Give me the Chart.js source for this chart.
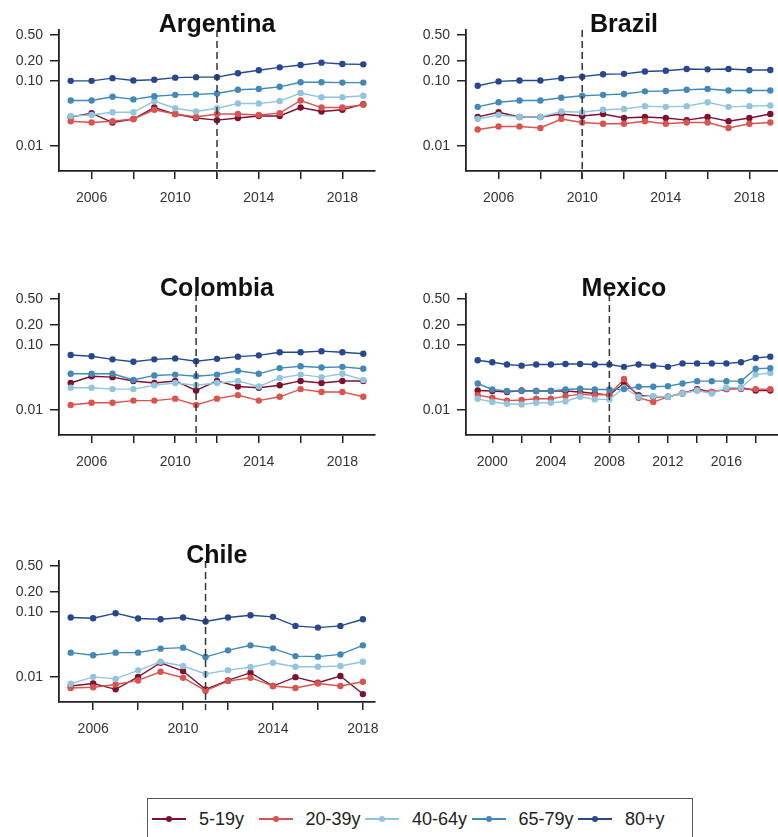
<!DOCTYPE html>
<html>
<head>
<meta charset="utf-8">
<title>Rates by age group</title>
<script src="https://cdn.jsdelivr.net/npm/chart.js@4.4.1/dist/chart.umd.min.js"></script>
<style>
    html, body { margin: 0; padding: 0; background: #fff; overflow: hidden; }
    body { width: 778px; height: 837px; position: relative; font-family: "Liberation Sans", Arial, sans-serif; }
    .panel { position: absolute; }
    .legend { position: absolute; left: 147px; top: 798px; width: 546px; height: 44px;
              border: 1.5px solid #555; box-sizing: border-box; }
    .item { position: absolute; top: 0; height: 100%; }
    .item .ln { position: absolute; left: 0; top: 19px; width: 34px; height: 1.5px; }
    .item .dot { position: absolute; left: 14px; top: 17px; width: 6px; height: 6px; border-radius: 50%; }
    .item .tx { position: absolute; left: 47px; top: 9px; font-size: 18px; line-height: 22px; color: #222; white-space: nowrap; }
</style>
</head>
<body>

<canvas id="argentinaChart" class="panel" width="390" height="215" style="left:0px;top:0px"></canvas>
<canvas id="brazilChart" class="panel" width="390" height="215" style="left:407px;top:0px"></canvas>
<canvas id="colombiaChart" class="panel" width="390" height="215" style="left:0px;top:264px"></canvas>
<canvas id="mexicoChart" class="panel" width="390" height="215" style="left:407px;top:264px"></canvas>
<canvas id="chileChart" class="panel" width="390" height="215" style="left:0px;top:531px"></canvas>
<div class="legend" id="legend"></div>

<script>
// =========================================
// Data
// =========================================
const ageGroups = ["5-19y", "20-39y", "40-64y", "65-79y", "80+y"];
const groupColors = ["#7d1230", "#d9534f", "#93c4de", "#4389b8", "#27488e"];

const yTicks = [0.01, 0.1, 0.2, 0.5];
const yLimits = [0.005, 0.5];

// Argentina
const argentinaYears = [2005, 2006, 2007, 2008, 2009, 2010, 2011, 2012, 2013, 2014, 2015, 2016, 2017, 2018, 2019];
const argentina5to19 = [0.028, 0.032, 0.023, 0.026, 0.039, 0.031, 0.027, 0.025, 0.027, 0.029, 0.029, 0.039, 0.034, 0.036, 0.044];
const argentina20to39 = [0.024, 0.023, 0.024, 0.026, 0.036, 0.031, 0.028, 0.031, 0.031, 0.030, 0.032, 0.050, 0.039, 0.039, 0.043];
const argentina40to64 = [0.029, 0.030, 0.033, 0.033, 0.049, 0.038, 0.034, 0.038, 0.045, 0.045, 0.049, 0.065, 0.056, 0.056, 0.059];
const argentina65to79 = [0.050, 0.050, 0.057, 0.052, 0.058, 0.061, 0.062, 0.064, 0.073, 0.075, 0.081, 0.095, 0.095, 0.094, 0.094];
const argentina80plus = [0.100, 0.100, 0.110, 0.101, 0.104, 0.112, 0.114, 0.114, 0.131, 0.145, 0.161, 0.175, 0.190, 0.181, 0.179];

// Brazil
const brazilYears = [2005, 2006, 2007, 2008, 2009, 2010, 2011, 2012, 2013, 2014, 2015, 2016, 2017, 2018, 2019];
const brazil5to19 = [0.028, 0.033, 0.028, 0.028, 0.031, 0.029, 0.031, 0.027, 0.028, 0.027, 0.025, 0.028, 0.024, 0.027, 0.031];
const brazil20to39 = [0.018, 0.020, 0.020, 0.019, 0.026, 0.023, 0.022, 0.022, 0.024, 0.022, 0.023, 0.023, 0.019, 0.022, 0.023];
const brazil40to64 = [0.026, 0.030, 0.028, 0.028, 0.034, 0.033, 0.036, 0.037, 0.041, 0.040, 0.041, 0.047, 0.040, 0.041, 0.042];
const brazil65to79 = [0.040, 0.047, 0.050, 0.050, 0.055, 0.059, 0.061, 0.063, 0.069, 0.070, 0.073, 0.075, 0.071, 0.071, 0.071];
const brazil80plus = [0.084, 0.098, 0.101, 0.101, 0.110, 0.116, 0.126, 0.128, 0.139, 0.143, 0.152, 0.150, 0.152, 0.147, 0.147];

// Colombia
const colombiaYears = [2005, 2006, 2007, 2008, 2009, 2010, 2011, 2012, 2013, 2014, 2015, 2016, 2017, 2018, 2019];
const colombia5to19 = [0.026, 0.033, 0.032, 0.028, 0.026, 0.028, 0.020, 0.028, 0.023, 0.022, 0.024, 0.028, 0.026, 0.028, 0.028];
const colombia20to39 = [0.012, 0.013, 0.013, 0.014, 0.014, 0.015, 0.012, 0.015, 0.017, 0.014, 0.016, 0.021, 0.019, 0.019, 0.016];
const colombia40to64 = [0.022, 0.022, 0.021, 0.021, 0.024, 0.026, 0.024, 0.026, 0.028, 0.023, 0.031, 0.035, 0.032, 0.036, 0.029];
const colombia65to79 = [0.036, 0.036, 0.036, 0.029, 0.034, 0.035, 0.033, 0.035, 0.040, 0.036, 0.044, 0.047, 0.045, 0.046, 0.043];
const colombia80plus = [0.070, 0.067, 0.060, 0.055, 0.060, 0.062, 0.056, 0.061, 0.066, 0.069, 0.077, 0.077, 0.080, 0.077, 0.073];

// Mexico
const mexicoYears = [1999, 2000, 2001, 2002, 2003, 2004, 2005, 2006, 2007, 2008, 2009, 2010, 2011, 2012, 2013, 2014, 2015, 2016, 2017, 2018, 2019];
const mexico5to19 = [0.020, 0.0196, 0.019, 0.020, 0.0196, 0.0196, 0.0196, 0.019, 0.018, 0.017, 0.026, 0.017, 0.016, 0.016, 0.018, 0.021, 0.019, 0.021, 0.022, 0.020, 0.020];
const mexico20to39 = [0.017, 0.0155, 0.014, 0.0143, 0.0149, 0.0149, 0.0164, 0.0174, 0.017, 0.0174, 0.030, 0.0155, 0.0133, 0.016, 0.0184, 0.020, 0.019, 0.021, 0.021, 0.021, 0.021];
const mexico40to64 = [0.0149, 0.0133, 0.0125, 0.0122, 0.013, 0.013, 0.0137, 0.016, 0.0146, 0.0146, 0.022, 0.016, 0.0164, 0.016, 0.018, 0.020, 0.018, 0.022, 0.022, 0.035, 0.037];
const mexico65to79 = [0.0256, 0.0207, 0.0196, 0.0196, 0.0196, 0.0196, 0.0207, 0.0212, 0.0207, 0.0207, 0.021, 0.0228, 0.0228, 0.0233, 0.0256, 0.0278, 0.0278, 0.0278, 0.0278, 0.043, 0.044];
const mexico80plus = [0.058, 0.054, 0.050, 0.048, 0.050, 0.050, 0.051, 0.051, 0.050, 0.050, 0.046, 0.050, 0.048, 0.046, 0.052, 0.052, 0.052, 0.052, 0.054, 0.063, 0.066];

// Chile
const chileYears = [2005, 2006, 2007, 2008, 2009, 2010, 2011, 2012, 2013, 2014, 2015, 2016, 2017, 2018];
const chile5to19 = [0.0073, 0.0080, 0.0065, 0.0101, 0.0166, 0.0124, 0.0065, 0.0089, 0.0117, 0.0073, 0.0100, 0.0082, 0.0104, 0.0055];
const chile20to39 = [0.0068, 0.0070, 0.0077, 0.0089, 0.0121, 0.0098, 0.0062, 0.0087, 0.0098, 0.0073, 0.0068, 0.0080, 0.0073, 0.0085];
const chile40to64 = [0.0079, 0.0101, 0.0094, 0.0127, 0.0172, 0.0148, 0.0112, 0.0128, 0.0142, 0.0166, 0.0144, 0.0144, 0.0148, 0.0172];
const chile65to79 = [0.0237, 0.0216, 0.0237, 0.0237, 0.0273, 0.0283, 0.0203, 0.0257, 0.0307, 0.0276, 0.0210, 0.0206, 0.0223, 0.0307];
const chile80plus = [0.0818, 0.0799, 0.0954, 0.079, 0.077, 0.0818, 0.071, 0.0818, 0.0889, 0.0838, 0.0609, 0.0574, 0.0609, 0.077];

// x ticks (marks) and labelled years
const ticks2005 = [2006, 2008, 2010, 2012, 2014, 2016, 2018];
const labels2005 = [2006, 2010, 2014, 2018];
const ticksMexico = [2000, 2002, 2004, 2006, 2008, 2010, 2012, 2014, 2016, 2018];
const labelsMexico = [2000, 2004, 2008, 2012, 2016];

// =========================================
// Global configuration
// =========================================
Chart.defaults.font.family = '"Liberation Sans", Arial, Helvetica, sans-serif';
Chart.defaults.color = "#333";

const axisColor = "#222";

// Title + dashed vertical marker
const panelDecor = {
    id: "panelDecor",
    afterDatasetsDraw(chart, args, opts) {
        const { ctx, chartArea, scales } = chart;
        const x = scales.x.getPixelForValue(opts.breakYear);
        ctx.save();
        ctx.strokeStyle = "#333";
        ctx.lineWidth = 1.5;
        ctx.setLineDash([7, 4]);
        ctx.beginPath();
        ctx.moveTo(x, chartArea.top);
        ctx.lineTo(x, chartArea.bottom + 8);
        ctx.stroke();
        ctx.restore();
    },
    afterDraw(chart, args, opts) {
        const { ctx, chartArea } = chart;
        ctx.save();
        ctx.font = 'bold 25px "Liberation Sans", Arial, sans-serif';
        ctx.fillStyle = "#111";
        ctx.textAlign = "center";
        ctx.textBaseline = "alphabetic";
        ctx.fillText(opts.title, (chartArea.left + chartArea.right) / 2, chartArea.top + 2);
        ctx.restore();
    },
};

// R-style 4% axis extension
function padRange(lo, hi) {
    const d = (hi - lo) * 0.04;
    return [lo - d, hi + d];
}

function buildPanel(canvasId, title, years, series, breakYear, tickYears, labelYears) {
    const [xMin, xMax] = padRange(years[0], years[years.length - 1]);
    const [lMin, lMax] = padRange(Math.log10(yLimits[0]), Math.log10(yLimits[1]));

    const datasets = series.map((values, i) => ({
        label: ageGroups[i],
        data: years.map((yr, j) => ({ x: yr, y: values[j] })),
        borderColor: groupColors[i],
        backgroundColor: groupColors[i],
        borderWidth: 1.4,
        pointRadius: 3.2,
        pointBorderWidth: 0,
        pointBackgroundColor: groupColors[i],
        tension: 0,
        order: series.length - i,
    }));

    new Chart(document.getElementById(canvasId), {
        type: "line",
        data: { datasets },
        plugins: [panelDecor],
        options: {
            responsive: false,
            animation: false,
            devicePixelRatio: 1,
            layout: { padding: { top: 30, right: 15, left: 0, bottom: 0 } },
            scales: {
                x: {
                    type: "linear",
                    min: xMin,
                    max: xMax,
                    afterBuildTicks: (scale) => {
                        scale.ticks = tickYears.map((v) => ({ value: v }));
                    },
                    afterFit: (scale) => {
                        scale.height = 44;
                    },
                    ticks: {
                        autoSkip: false,
                        maxRotation: 0,
                        padding: 11,
                        font: { size: 14 },
                        color: "#333",
                        callback: (v) => (labelYears.includes(v) ? String(v) : ""),
                    },
                    grid: {
                        drawOnChartArea: false,
                        drawTicks: true,
                        tickLength: 8,
                        color: axisColor,
                        lineWidth: 1.5,
                    },
                    border: { display: true, color: axisColor, width: 1.8 },
                },
                y: {
                    type: "logarithmic",
                    min: Math.pow(10, lMin),
                    max: Math.pow(10, lMax),
                    afterBuildTicks: (scale) => {
                        scale.ticks = yTicks.map((v) => ({ value: v }));
                    },
                    afterFit: (scale) => {
                        scale.width = 59;
                    },
                    ticks: {
                        autoSkip: false,
                        padding: 7,
                        font: { size: 14 },
                        color: "#333",
                        callback: (v) => v.toFixed(2),
                    },
                    grid: {
                        drawOnChartArea: false,
                        drawTicks: true,
                        tickLength: 9,
                        color: axisColor,
                        lineWidth: 1.5,
                    },
                    border: { display: true, color: axisColor, width: 1.8 },
                },
            },
            plugins: {
                legend: { display: false },
                tooltip: { enabled: false },
                panelDecor: { title: title, breakYear: breakYear },
            },
        },
    });
}

// =========================================
// Panels
// =========================================
buildPanel("argentinaChart", "Argentina", argentinaYears,
    [argentina5to19, argentina20to39, argentina40to64, argentina65to79, argentina80plus],
    2012, ticks2005, labels2005);

buildPanel("brazilChart", "Brazil", brazilYears,
    [brazil5to19, brazil20to39, brazil40to64, brazil65to79, brazil80plus],
    2010, ticks2005, labels2005);

buildPanel("colombiaChart", "Colombia", colombiaYears,
    [colombia5to19, colombia20to39, colombia40to64, colombia65to79, colombia80plus],
    2011, ticks2005, labels2005);

buildPanel("mexicoChart", "Mexico", mexicoYears,
    [mexico5to19, mexico20to39, mexico40to64, mexico65to79, mexico80plus],
    2008, ticksMexico, labelsMexico);

buildPanel("chileChart", "Chile", chileYears,
    [chile5to19, chile20to39, chile40to64, chile65to79, chile80plus],
    2011, ticks2005, labels2005);

// =========================================
// Shared legend
// =========================================
const legendBox = document.getElementById("legend");
ageGroups.forEach((label, i) => {
    const item = document.createElement("div");
    item.className = "item";
    item.style.left = (4 + 106.5 * i) + "px";
    item.innerHTML =
        '<span class="ln" style="background:' + groupColors[i] + '"></span>' +
        '<span class="dot" style="background:' + groupColors[i] + '"></span>' +
        '<span class="tx">' + label + "</span>";
    legendBox.appendChild(item);
});
</script>
</body>
</html>
